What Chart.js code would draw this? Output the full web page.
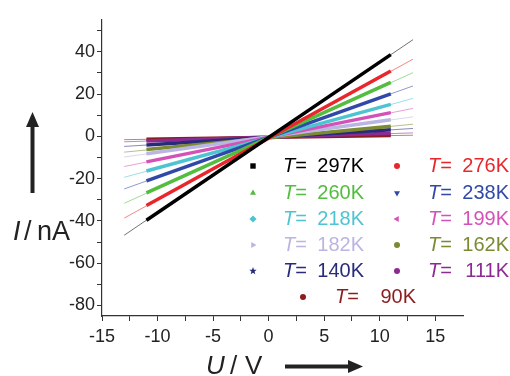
<!DOCTYPE html>
<html>
<head>
<meta charset="utf-8">
<script src="https://cdn.jsdelivr.net/npm/chart.js@4.4.1/dist/chart.umd.min.js"></script>
<style>
  html, body { margin: 0; padding: 0; background: #fff; }
</style>
</head>
<body>
<canvas id="iv-curves" width="510" height="376"></canvas>
<script>
// temperatures of the I-U sweeps
const temps = ["297K", "276K", "260K", "238K", "218K", "199K", "182K", "162K", "140K", "111K", "90K"];
const colors = ["#000000", "#e8262c", "#52bd3e", "#3048a8", "#4ec4d2", "#d452b8", "#b9b6e2", "#7c8a32", "#272b7a", "#8c2a92", "#8c1c1e"];
const markers = ["rect", "circle", "triangle", "triangleDown", "rectRot", "triangleLeft", "triangleRight", "circle", "star", "circle", "circle"];

// measured data: current (nA) at the sweep ends U = -11 V and U = +11 V
const dataU = [-11, 11];
const dataI_neg = [-39.7, -32.7, -26.8, -21.1, -16.4, -12.1, -8.3, -6.3, -4.1, -2.2, -1.4];
const dataI_pos = [38.6, 30.9, 25.5, 20.1, 15.1, 11.2, 7.8, 4.8, 3.1, 1.4, 0.4];

// linear fits, drawn out to U = -13 V and U = +13 V
const fitU = [-13, 13];
const fitI_neg = [-46.8, -38.7, -31.7, -24.9, -19.4, -14.3, -9.8, -7.5, -4.8, -2.6, -1.6];
const fitI_pos = [45.7, 36.5, 30.1, 23.8, 17.9, 13.2, 9.2, 5.7, 3.7, 1.6, 0.5];

// axis ticks (labels only on the major ones)
const xTicks = [-15, -12.5, -10, -7.5, -5, -2.5, 0, 2.5, 5, 7.5, 10, 12.5, 15];
const xLabels = [-15, -10, -5, 0, 5, 10, 15];
const yTicks = [-80, -70, -60, -50, -40, -30, -20, -10, 0, 10, 20, 30, 40, 50];
const yLabels = [-80, -60, -40, -20, 0, 20, 40];

const FONT = "'Liberation Sans', Arial, Helvetica, sans-serif";

function fade(hex, a) {
  const n = parseInt(hex.slice(1), 16);
  return "rgba(" + (n >> 16) + "," + ((n >> 8) & 255) + "," + (n & 255) + "," + a + ")";
}

let datasets = [];
temps.forEach((t, i) => {
  datasets.push({
    label: "T = " + t,
    data: [{ x: dataU[0], y: dataI_neg[i] }, { x: dataU[1], y: dataI_pos[i] }],
    showLine: true,
    borderColor: colors[i],
    borderWidth: 3.5,
    pointRadius: 0,
    order: i
  });
});
temps.forEach((t, i) => {
  datasets.push({
    label: "fit " + t,
    data: [{ x: fitU[0], y: fitI_neg[i] }, { x: fitU[1], y: fitI_pos[i] }],
    showLine: true,
    borderColor: fade(colors[i], 0.55),
    borderWidth: 1,
    pointRadius: 0,
    order: 20 + i
  });
});

function drawMarker(ctx, style, x, y, r, color) {
  ctx.save();
  ctx.fillStyle = color;
  ctx.beginPath();
  const tri = (rot) => {
    for (let k = 0; k < 3; k++) {
      const a = rot + k * 2 * Math.PI / 3;
      const px = x + r * 1.15 * Math.sin(a), py = y - r * 1.15 * Math.cos(a);
      if (k === 0) ctx.moveTo(px, py); else ctx.lineTo(px, py);
    }
    ctx.closePath();
  };
  if (style === "rect") {
    ctx.rect(x - r * 0.9, y - r * 0.9, r * 1.8, r * 1.8);
  } else if (style === "circle") {
    ctx.arc(x, y, r, 0, Math.PI * 2);
  } else if (style === "triangle") {
    tri(0);
  } else if (style === "triangleDown") {
    tri(Math.PI);
  } else if (style === "triangleLeft") {
    tri(-Math.PI / 2);
  } else if (style === "triangleRight") {
    tri(Math.PI / 2);
  } else if (style === "rectRot") {
    ctx.moveTo(x, y - r * 1.2); ctx.lineTo(x + r * 1.2, y);
    ctx.lineTo(x, y + r * 1.2); ctx.lineTo(x - r * 1.2, y);
    ctx.closePath();
  } else if (style === "star") {
    for (let k = 0; k < 10; k++) {
      const a = k * Math.PI / 5;
      const rr = k % 2 === 0 ? r * 1.3 : r * 0.55;
      const px = x + rr * Math.sin(a), py = y - rr * Math.cos(a);
      if (k === 0) ctx.moveTo(px, py); else ctx.lineTo(px, py);
    }
    ctx.closePath();
  }
  ctx.fill();
  ctx.restore();
}

function arrow(ctx, x1, y1, x2, y2) {
  const ang = Math.atan2(y2 - y1, x2 - x1);
  const hl = 15, hw = 6.5;
  const bx = x2 - hl * Math.cos(ang), by = y2 - hl * Math.sin(ang);
  ctx.save();
  ctx.strokeStyle = "#222";
  ctx.fillStyle = "#222";
  ctx.lineWidth = 4;
  ctx.beginPath();
  ctx.moveTo(x1, y1);
  ctx.lineTo(bx, by);
  ctx.stroke();
  ctx.beginPath();
  ctx.moveTo(x2, y2);
  ctx.lineTo(bx + hw * Math.sin(ang), by - hw * Math.cos(ang));
  ctx.lineTo(bx - hw * Math.sin(ang), by + hw * Math.cos(ang));
  ctx.closePath();
  ctx.fill();
  ctx.restore();
}

// legend inside the plot + axis titles with arrows
const decorations = {
  id: "decorations",
  afterDraw(chart) {
    const ctx = chart.ctx;
    ctx.save();
    ctx.textBaseline = "middle";

    const rowY = [166, 193, 219, 245, 271, 297];
    const cols = [{ m: 253, t: 283 }, { m: 397, t: 428 }];
    temps.forEach((t, i) => {
      let mx, tx, y;
      if (i === temps.length - 1) {
        mx = 303; tx = 335; y = rowY[5];
      } else {
        mx = cols[i % 2].m; tx = cols[i % 2].t; y = rowY[Math.floor(i / 2)];
      }
      drawMarker(ctx, markers[i], mx, y, 3, colors[i]);
      ctx.fillStyle = colors[i];
      ctx.textAlign = "left";
      ctx.font = "italic 20px " + FONT;
      ctx.fillText("T", tx, y);
      const w = ctx.measureText("T").width;
      ctx.font = "20px " + FONT;
      ctx.fillText("=", tx + w, y);
      ctx.textAlign = "right";
      ctx.fillText(t, tx + 81, y);
    });

    // y title
    ctx.fillStyle = "#222";
    ctx.textAlign = "left";
    ctx.textBaseline = "alphabetic";
    ctx.font = "italic 27px " + FONT;
    ctx.fillText("I", 13, 240);
    ctx.font = "27px " + FONT;
    ctx.fillText("/", 24, 240);
    ctx.fillText("nA", 37, 240);

    // x title
    ctx.font = "italic 26px " + FONT;
    ctx.fillText("U", 206, 374);
    ctx.font = "26px " + FONT;
    ctx.fillText("/", 230, 374);
    ctx.fillText("V", 245, 374);

    arrow(ctx, 32.5, 193, 32.5, 112);
    arrow(ctx, 285, 366.5, 363, 366.5);
    ctx.restore();
  }
};

new Chart("iv-curves", {
  type: "scatter",
  data: { datasets: datasets },
  options: {
    responsive: false,
    animation: false,
    devicePixelRatio: 1,
    layout: { padding: { top: 20, right: 47, left: 0, bottom: 0 } },
    plugins: {
      legend: { display: false },
      tooltip: { enabled: false }
    },
    scales: {
      x: {
        type: "linear",
        min: -15,
        max: 17.5,
        afterFit: (s) => { s.height = 60; },
        afterBuildTicks: (s) => { s.ticks = xTicks.map((v) => ({ value: v })); },
        ticks: {
          autoSkip: false,
          maxRotation: 0,
          padding: 5,
          color: "#222",
          font: { family: FONT, size: 18 },
          callback: (v) => (xLabels.includes(v) ? v : "")
        },
        grid: { drawOnChartArea: false, tickLength: 5, color: "#333" },
        border: { color: "#333", width: 1.2 }
      },
      y: {
        type: "linear",
        min: -85,
        max: 55,
        afterFit: (s) => { s.width = 102; },
        afterBuildTicks: (s) => { s.ticks = yTicks.map((v) => ({ value: v })); },
        ticks: {
          autoSkip: false,
          padding: 2,
          color: "#222",
          font: { family: FONT, size: 18 },
          callback: (v) => (yLabels.includes(v) ? v : "")
        },
        grid: { drawOnChartArea: false, tickLength: 5, color: "#333" },
        border: { color: "#333", width: 1.2 }
      }
    }
  },
  plugins: [decorations]
});
</script>
</body>
</html>
